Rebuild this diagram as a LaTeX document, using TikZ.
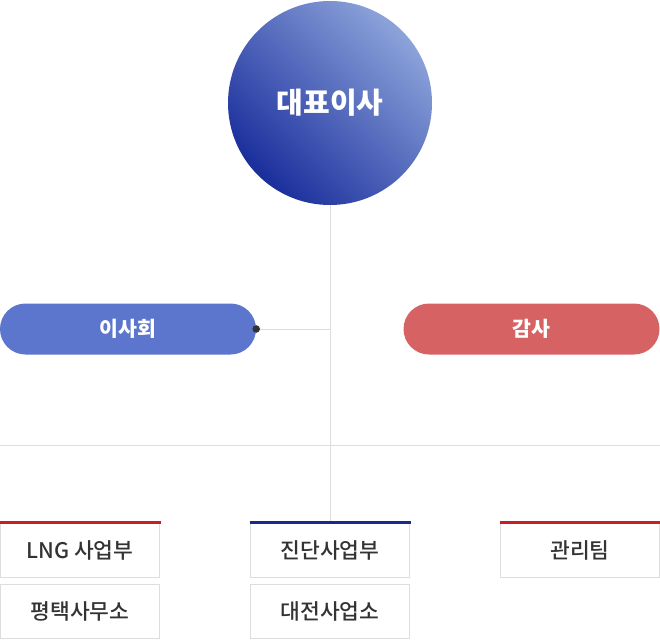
\documentclass[tikz,border=0pt]{standalone}
\usepackage{fontspec}
\setmainfont{Noto Sans CJK KR}
\newfontfamily\krmed{Noto Sans CJK KR}[UprightFont=* Medium]
\definecolor{ceodark}{HTML}{1A2E9C}
\definecolor{ceolight}{HTML}{8CA3DA}
\definecolor{boardblue}{HTML}{5B76CC}
\definecolor{auditred}{HTML}{D76264}
\definecolor{linegray}{HTML}{DDDDDD}
\definecolor{barred}{HTML}{C81E24}
\definecolor{barnavy}{HTML}{1A2A8C}
\definecolor{txtgray}{HTML}{333333}
\tikzset{
  pill/.style={rectangle,rounded corners=25.5pt,minimum width=256pt,minimum height=51pt,
    text=white,font=\fontsize{20.5}{20.5}\selectfont\bfseries,inner sep=0pt},
  unit/.style={rectangle,draw=linegray,line width=1pt,fill=white,minimum width=159pt,
    minimum height=54pt,text=txtgray,font=\krmed\fontsize{21.5}{21.5}\selectfont,inner sep=0pt},
  conn/.style={draw=linegray,line width=1pt}
}
\begin{document}
\begin{tikzpicture}[x=1pt,y=-1pt]
\useasboundingbox (0,0) rectangle (660,639);
% connectors
\coordinate (hub) at (330,329);
\coordinate (rowl) at (0,445);
\coordinate (rowr) at (660,445);
\coordinate (drop) at (330,522);
\path[conn] (330,205) -- (drop);
\path[conn] (rowl) -- (rowr);
\node[circle,minimum size=204pt,inner sep=0pt,top color=ceolight,bottom color=ceodark,
  shading angle=-45,text=white,font=\fontsize{29}{29}\selectfont\bfseries] (ceo) at (330,103) {대표이사};
\node[pill,fill=boardblue] (board) at (128,329) {이사회};
\node[pill,fill=auditred] (audit) at (531.5,329) {감사};
\path[conn] (board.east) -- (hub);
\fill[txtgray] (board.east) circle (3.8pt);
% units
\node[unit] (lng) at (80,550) {LNG 사업부};
\node[unit] (ptk) at (80,611) {평택사무소};
\node[unit] (jindan) at (330,550) {진단사업부};
\node[unit] (djn) at (330,611) {대전사업소};
\node[unit] (mgmt) at (580,550) {관리팀};
\draw[barred,line width=3pt] (lng.north west)++(-0.5,0) -- ([xshift=0.5pt]lng.north east);
\draw[barnavy,line width=3pt] (jindan.north west)++(-0.5,0) -- ([xshift=0.5pt]jindan.north east);
\draw[barred,line width=3pt] (mgmt.north west)++(-0.5,0) -- ([xshift=0.5pt]mgmt.north east);
\end{tikzpicture}
\end{document}
